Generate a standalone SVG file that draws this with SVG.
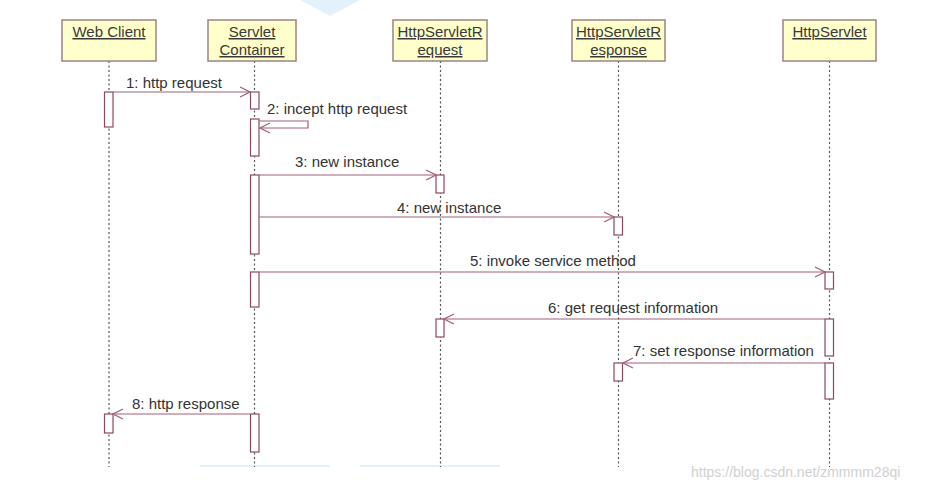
<svg xmlns="http://www.w3.org/2000/svg" width="935" height="489" viewBox="0 0 935 489">
<style>
.box{fill:#ffffcc;stroke:#9c8484;stroke-width:1.5}
.hd{font-family:"Liberation Sans",Arial,sans-serif;font-size:15px;fill:#3a3a3a;text-anchor:middle;text-decoration:underline}
.life{stroke:#555;stroke-width:1.2;stroke-dasharray:2,2.5}
.act{fill:#fff;stroke:#8a4a62;stroke-width:1.2}
.msg{stroke:#a0607a;stroke-width:1.2;fill:none}
.lbl{font-family:"Liberation Sans",Arial,sans-serif;font-size:15px;fill:#333}
</style>
<defs>
<marker id="ah" viewBox="0 0 12 12" refX="11" refY="6" markerWidth="12" markerHeight="12" markerUnits="userSpaceOnUse" orient="auto">
<path d="M1,1 L11,6 L1,11" fill="none" stroke="#a0607a" stroke-width="1.3"/>
</marker>
</defs>
<rect width="935" height="489" fill="#fff"/>
<g id="wm" opacity="0.25">
<path d="M300,0 L360,0 L330,16 Z" fill="#8ec6f0"/>
<path d="M200,466 L330,466" stroke="#8ec6f0" stroke-width="2"/>
<path d="M360,466 L500,466" stroke="#8ec6f0" stroke-width="2"/>
</g>
<g id="lifelines">
<line class="life" x1="109" y1="61" x2="109" y2="467"/>
<line class="life" x1="254.5" y1="61" x2="254.5" y2="467"/>
<line class="life" x1="440.5" y1="61" x2="440.5" y2="467"/>
<line class="life" x1="618.5" y1="61" x2="618.5" y2="467"/>
<line class="life" x1="829.5" y1="61" x2="829.5" y2="467"/>
</g>
<g id="n-webclient">
<rect class="box" x="62" y="20" width="94" height="41"/>
<text class="hd" x="109" y="37">Web Client</text>
</g>
<g id="n-container">
<rect class="box" x="208" y="20" width="88" height="41"/>
<text class="hd" x="252" y="37">Servlet</text>
<text class="hd" x="252" y="55">Container</text>
</g>
<g id="n-request">
<rect class="box" x="393" y="20" width="94" height="41"/>
<text class="hd" x="440" y="37">HttpServletR</text>
<text class="hd" x="440" y="55">equest</text>
</g>
<g id="n-response">
<rect class="box" x="572" y="20" width="93" height="41"/>
<text class="hd" x="618.5" y="37">HttpServletR</text>
<text class="hd" x="618.5" y="55">esponse</text>
</g>
<g id="n-servlet">
<rect class="box" x="783" y="20" width="93" height="41"/>
<text class="hd" x="829.5" y="37">HttpServlet</text>
</g>
<g id="activations">
<rect class="act" x="104.5" y="92" width="8.5" height="35"/>
<rect class="act" x="250.5" y="92" width="8.5" height="17"/>
<rect class="act" x="250.5" y="119" width="8.5" height="37"/>
<rect class="act" x="250.5" y="175" width="8.5" height="79"/>
<rect class="act" x="436" y="175" width="8" height="18"/>
<rect class="act" x="614" y="217" width="8.5" height="18"/>
<rect class="act" x="250.5" y="272" width="8.5" height="35"/>
<rect class="act" x="825" y="272" width="8.5" height="17"/>
<rect class="act" x="825" y="319" width="8.5" height="37"/>
<rect class="act" x="436" y="319" width="8" height="18"/>
<rect class="act" x="825" y="363" width="8.5" height="36"/>
<rect class="act" x="614" y="363" width="8.5" height="18"/>
<rect class="act" x="104.5" y="414" width="8.5" height="19"/>
<rect class="act" x="250.5" y="414" width="8.5" height="38"/>
</g>
<g id="connectors">
<line class="msg" x1="113" y1="92" x2="250" y2="92" marker-end="url(#ah)"/>
<polyline class="msg" points="259,121 308,121 308,128 260,128" marker-end="url(#ah)"/>
<line class="msg" x1="259" y1="175" x2="436" y2="175" marker-end="url(#ah)"/>
<line class="msg" x1="259" y1="217" x2="614" y2="217" marker-end="url(#ah)"/>
<line class="msg" x1="259" y1="272" x2="825" y2="272" marker-end="url(#ah)"/>
<line class="msg" x1="825" y1="319" x2="444" y2="319" marker-end="url(#ah)"/>
<line class="msg" x1="825" y1="363" x2="623" y2="363" marker-end="url(#ah)"/>
<line class="msg" x1="250" y1="414" x2="113" y2="414" marker-end="url(#ah)"/>
</g>
<g id="labels">
<text class="lbl" x="126" y="88">1: http request</text>
<text class="lbl" x="267" y="114">2: incept http request</text>
<text class="lbl" x="295" y="167">3: new instance</text>
<text class="lbl" x="397" y="213">4: new instance</text>
<text class="lbl" x="470" y="266">5: invoke service method</text>
<text class="lbl" x="548" y="313">6: get request information</text>
<text class="lbl" x="633" y="356">7: set response information</text>
<text class="lbl" x="132" y="409">8: http response</text>
</g>
<text x="691" y="477" font-family="Liberation Sans,Arial,sans-serif" font-size="14" fill="#d0d0d0">https://blog.csdn.net/zmmmm28qi</text>
</svg>
